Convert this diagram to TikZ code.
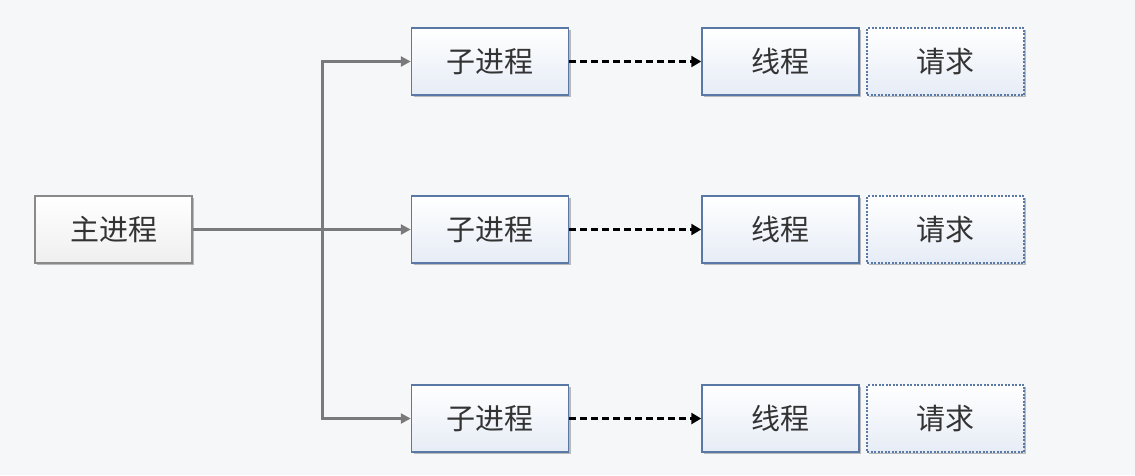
\documentclass[tikz,border=0pt]{standalone}
\usepackage{fontspec}
\newfontfamily\cjk{Noto Sans CJK SC}
\usetikzlibrary{shadows,arrows.meta,positioning}
\definecolor{bgc}{HTML}{F6F7F9}
\definecolor{grayb}{HTML}{8A8A8A}
\definecolor{blueb}{HTML}{5A78A6}
\definecolor{bluef}{HTML}{E6ECF6}
\definecolor{grayf}{HTML}{EFEFEF}
\definecolor{linec}{HTML}{7A7A7A}
\tikzset{
  box/.style={minimum width=157pt, minimum height=67pt, inner sep=0pt,
    font=\cjk\fontsize{29}{33}\selectfont, text=black!80,
    drop shadow={shadow xshift=2pt, shadow yshift=-2pt, opacity=0.25, fill=black}},
  mainbox/.style={box, draw=grayb, line width=1.8pt, top color=white, bottom color=grayf},
  procbox/.style={box, draw=blueb, line width=1.5pt, top color=white, bottom color=bluef},
  reqbox/.style={box, draw=blueb, line width=1.3pt, dash pattern=on 2pt off 1.5pt, top color=white, bottom color=bluef},
  grayarrow/.style={draw=linec, line width=3pt, -{Triangle[length=10pt,width=10pt]}},
  grayline/.style={draw=linec, line width=3.6pt},
  dasharrow/.style={draw=black, line width=3.2pt, dash pattern=on 7pt off 4pt, -{Triangle[length=10pt,width=11pt]}},
}
\begin{document}
\begin{tikzpicture}[x=1pt,y=-1pt]
\fill[bgc] (0,0) rectangle (1135,475);
\useasboundingbox (0,0) rectangle (1135,475);
\node[mainbox] (main) at (113.5,229.5) {主进程};
\foreach \i/\y in {a/61.5,b/229.5,c/418.5}{
  \node[procbox] (p\i) at (490,\y) {子进程};
  \node[procbox] (t\i) at (780.5,\y) {线程};
  \node[reqbox] (r\i) at (945.5,\y) {请求};
  \draw[dasharrow] (p\i.east) -- (t\i.west);
}
\coordinate (j) at (322,229.5);
\draw[grayline] (main.east) -- (j);
\draw[grayarrow] (j) |- (pa.west);
\draw[grayarrow] (j) -- (pb.west);
\draw[grayarrow] (j) |- (pc.west);
\end{tikzpicture}
\end{document}
